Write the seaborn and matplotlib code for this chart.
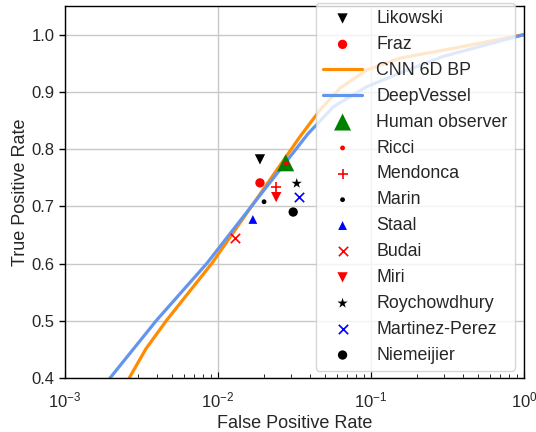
import numpy as np
import pandas as pd
import matplotlib
matplotlib.use("Agg")
import matplotlib.pyplot as plt
import seaborn as sns

# ---- data ----
cnn_fpr = [0.00263, 0.00338, 0.00462, 0.0091, 0.0344, 0.0465, 0.0627, 0.0938, 0.155, 0.345, 1.0]
cnn_tpr = [0.400, 0.451, 0.501, 0.600, 0.822, 0.8685, 0.9065, 0.938, 0.959, 0.976, 1.0]

dv_fpr = [0.00197, 0.00397, 0.00844, 0.0387, 0.0568, 0.0938, 0.155, 0.297, 1.0]
dv_tpr = [0.400, 0.501, 0.600, 0.8266, 0.874, 0.909, 0.933, 0.962, 1.0]

methods = ["Likowski", "Fraz", "Human observer", "Ricci", "Mendonca", "Marin",
           "Staal", "Budai", "Miri", "Roychowdhury", "Martinez-Perez", "Niemeijier"]
method_fpr = [0.0188, 0.0188, 0.0277, 0.0280, 0.0240, 0.0200,
              0.0169, 0.0130, 0.0240, 0.0327, 0.0338, 0.0310]
method_tpr = [0.782, 0.741, 0.776, 0.775, 0.734, 0.708,
              0.677, 0.645, 0.716, 0.740, 0.716, 0.690]

styles = {
    "Likowski": dict(marker="v", color="black", s=55),
    "Fraz": dict(marker="o", color="red", s=45),
    "Human observer": dict(marker="^", color="green", s=150),
    "Ricci": dict(marker="o", color="red", s=12),
    "Mendonca": dict(marker="+", color="red", s=55),
    "Marin": dict(marker="o", color="black", s=12),
    "Staal": dict(marker="^", color="blue", s=40),
    "Budai": dict(marker="x", color="red", s=45),
    "Miri": dict(marker="v", color="red", s=55),
    "Roychowdhury": dict(marker="*", color="black", s=60),
    "Martinez-Perez": dict(marker="x", color="blue", s=45),
    "Niemeijier": dict(marker="o", color="black", s=45),
}

sns.set_style("whitegrid")
plt.rcParams["font.family"] = ["Liberation Sans", "DejaVu Sans"]
plt.rcParams["mathtext.fontset"] = "custom"
plt.rcParams["mathtext.rm"] = "Liberation Sans"
plt.rcParams["mathtext.it"] = "Liberation Sans:italic"
plt.rcParams["mathtext.bf"] = "Liberation Sans:bold"

fig = plt.figure(figsize=(5.36, 4.32), dpi=100)
ax = fig.add_axes([65/536, 1 - 378/432, (524-65)/536, (378-6)/432])

handles = {}

def scat(name):
    i = methods.index(name)
    st = styles[name]
    df = pd.DataFrame({"x": [method_fpr[i]], "y": [method_tpr[i]]})
    kw = dict(marker=st["marker"], color=st["color"], s=st["s"], zorder=3, legend=False)
    if st["marker"] not in ("x", "+"):
        kw["edgecolor"] = "none"
    else:
        kw["linewidth"] = 1.2
    sns.scatterplot(data=df, x="x", y="y", ax=ax, **kw)
    handles[name] = ax.collections[-1]

scat("Likowski")
scat("Fraz")
df_cnn = pd.DataFrame({"fpr": cnn_fpr, "tpr": cnn_tpr})
sns.lineplot(data=df_cnn, x="fpr", y="tpr", ax=ax, color="darkorange", lw=2.3, sort=False)
handles["CNN 6D BP"] = ax.lines[-1]
df_dv = pd.DataFrame({"fpr": dv_fpr, "tpr": dv_tpr})
sns.lineplot(data=df_dv, x="fpr", y="tpr", ax=ax, color="cornflowerblue", lw=2.3, sort=False)
handles["DeepVessel"] = ax.lines[-1]
for n in ["Human observer", "Ricci", "Mendonca", "Marin", "Staal", "Budai", "Miri",
          "Roychowdhury", "Martinez-Perez", "Niemeijier"]:
    scat(n)

ax.set_xscale("log")
ax.set_xlim(1e-3, 1)
ax.set_ylim(0.4, 1.05)
ax.set_yticks([0.4, 0.5, 0.6, 0.7, 0.8, 0.9, 1.0])
ax.set_xlabel("False Positive Rate", fontsize=13, labelpad=3)
ax.set_ylabel("True Positive Rate", fontsize=13, labelpad=2)
ax.grid(True, which="major", color="#c8c8c8", lw=1)
ax.grid(False, which="minor")
for sp in ax.spines.values():
    sp.set_color("black")
    sp.set_linewidth(1)
ax.tick_params(axis="y", direction="out", length=4, width=1, labelsize=12, left=True, color="black")
ax.tick_params(axis="x", which="both", direction="in", labelsize=12, bottom=True, color="black", pad=9)
ax.tick_params(axis="x", which="minor", length=3)
ax.tick_params(axis="x", which="major", length=4)

order = ["Likowski", "Fraz", "CNN 6D BP", "DeepVessel", "Human observer", "Ricci", "Mendonca",
         "Marin", "Staal", "Budai", "Miri", "Roychowdhury", "Martinez-Perez", "Niemeijier"]
leg = ax.legend([handles[k] for k in order], order, loc="upper right",
                bbox_to_anchor=(0.98, 1.008), borderaxespad=0, fontsize=12.8,
                framealpha=0.8, labelspacing=0.5, scatterpoints=1, handlelength=2.2)
leg.get_frame().set_facecolor("white")
leg.get_frame().set_alpha(0.8)
leg.set_zorder(10)

fig.savefig("out.png", dpi=100)
